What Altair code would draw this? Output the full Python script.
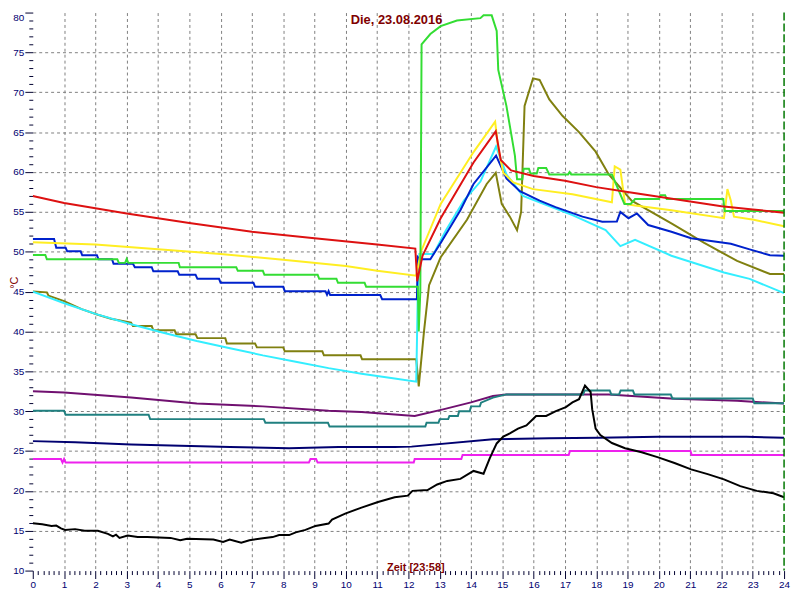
import altair as alt
import pandas as pd

# ---- data (time in hours, temperature in °C) ----
red_t = [0, 1, 3, 5, 7, 9, 11, 12.22, 12.28, 12.45, 13.03, 14.08, 14.79, 14.95, 15.28, 16, 17, 18, 19, 20, 21, 22, 23, 24]
red_v = [57.0, 56.1, 54.8, 53.6, 52.5, 51.7, 50.9, 50.4, 46.3, 49.5, 54.2, 61.2, 65.1, 61.5, 60.2, 59.5, 58.9, 58.1, 57.5, 56.9, 56.3, 55.7, 55.3, 54.9]

yel_t = [0, 2, 4, 6, 8, 10, 11, 12.25, 12.4, 13.03, 14.08, 14.77, 14.87, 15.03, 15.35, 15.98, 17.24, 18.5, 18.59, 18.77, 18.92, 19.24, 20.4, 22.08, 22.19, 22.3, 22.4, 23.03, 24]
yel_v = [51.2, 50.9, 50.3, 49.7, 49.0, 48.2, 47.6, 47.0, 50.0, 56.0, 62.5, 66.3, 63.0, 59.9, 58.7, 57.85, 57.2, 56.2, 60.7, 60.3, 56.0, 55.8, 55.2, 54.2, 57.85, 56.4, 54.4, 54.0, 53.2]

grn_t = [0, 0.4, 0.45, 2.7, 2.75, 2.95, 3.0, 3.05, 4.66, 4.7, 6.5, 6.55, 7.35, 7.4, 9.1, 9.15, 9.7, 9.75, 10.6, 10.65,
         12.3, 12.33, 12.38, 12.42, 12.7, 13.03, 13.55, 14.3, 14.4, 14.66, 14.82, 14.87, 15.13, 15.4, 15.47, 15.64,
         15.68, 15.85, 15.9, 16.1, 16.15, 16.4, 16.5, 17.1, 17.15, 17.2, 18.5, 18.9, 19.1, 19.24, 20.0, 20.05, 20.2,
         20.25, 22.06, 22.1, 24]
grn_v = [49.6, 49.6, 49.05, 49.05, 48.6, 48.6, 49.1, 48.6, 48.6, 48.05, 48.05, 47.6, 47.6, 47.1, 47.1, 46.6, 46.6, 46.1, 46.1, 45.6,
         45.6, 40.0, 45.0, 76.0, 77.3, 78.3, 79.0, 79.3, 79.65, 79.65, 77.7, 72.8, 68.3, 62.1, 59.1, 59.1,
         60.4, 60.4, 59.8, 59.8, 60.5, 60.5, 59.7, 59.7, 60.0, 59.7, 59.7, 56.0, 56.0, 56.6, 56.6, 57.1, 57.1,
         56.6, 56.6, 55.1, 55.1]

blu_t = [0, 0.68, 0.75, 1.05, 1.1, 1.53, 1.58, 2.05, 2.1, 2.53, 2.58, 3.2, 3.26, 3.8, 3.85, 4.63, 4.68, 5.2, 5.26, 5.95, 6.0,
         7.05, 7.1, 8.0, 8.05, 9.35, 9.4, 9.45, 9.5, 11.1, 11.16, 12.27, 12.3, 12.35, 12.7, 13.03, 13.66, 14.08, 14.8,
         15.13, 15.56, 16.19, 16.7, 17.56, 18.19, 18.66, 18.77, 19.03, 19.3, 19.66, 20.4, 21.03, 22.3, 22.9, 23.55, 24]
blu_v = [51.6, 51.6, 50.5, 50.5, 50.05, 50.05, 49.55, 49.55, 49.05, 49.05, 48.5, 48.5, 48.05, 48.05, 47.55, 47.55, 47.1, 47.1, 46.6, 46.6, 46.1,
         46.1, 45.6, 45.6, 45.05, 45.05, 44.6, 45.05, 44.56, 44.56, 44.05, 44.05, 49.3, 49.06, 49.06, 51.1, 55.2, 58.5, 62.06,
         59.2, 57.6, 56.4, 55.6, 54.4, 53.77, 53.8, 55.0, 54.2, 54.8, 53.35, 52.5, 51.7, 51.0, 50.3, 49.55, 49.5]

cya_t = [0, 1.03, 2.0, 3.14, 4.2, 5.24, 6.3, 7.35, 8.4, 9.45, 10.5, 11.56, 12.25, 12.3, 12.35, 12.8, 13.2, 13.77, 14.3, 14.8,
         15.13, 15.66, 17.24, 18.3, 18.77, 19.24, 20.4, 22.08, 22.9, 24]
cya_v = [45.0, 43.5, 42.2, 40.9, 39.8, 38.8, 37.9, 37.0, 36.2, 35.4, 34.7, 34.1, 33.7, 45.0, 49.7, 49.7, 52.7, 56.4, 58.8, 63.2,
         59.7, 57.0, 54.6, 52.7, 50.7, 51.5, 49.5, 47.4, 46.6, 44.8]

oli_t = [0, 0.45, 0.5, 1.0, 1.56, 2.08, 2.5, 3.14, 3.2, 3.8, 3.85, 4.53, 4.58, 5.2, 5.26, 6.15, 6.2, 7.1, 7.16, 8.0, 8.05,
         9.25, 9.3, 10.47, 10.52, 12.25, 12.33, 12.5, 12.66, 13.03, 13.87, 14.5, 14.79, 14.98, 15.24, 15.47, 15.6, 15.71,
         15.98, 16.19, 16.5, 16.92, 17.45, 17.98, 18.4, 19.13, 20.4, 21.45, 22.5, 23.55, 24]
oli_v = [45.0, 44.9, 44.5, 43.8, 42.8, 42.1, 41.6, 41.1, 40.67, 40.67, 40.15, 40.15, 39.65, 39.65, 39.16, 39.16, 38.5, 38.5, 38.0, 38.0, 37.5,
         37.5, 37.0, 37.0, 36.5, 36.5, 33.1, 40.1, 45.8, 49.3, 54.0, 58.5, 59.9, 56.0, 54.4, 52.7, 55.0, 68.3,
         71.75, 71.55, 69.1, 67.05, 65.0, 62.55, 59.7, 56.4, 53.55, 51.1, 48.85, 47.2, 47.2]

pur_t = [0, 1.0, 3.14, 5.24, 7.35, 9.45, 10.5, 12.2, 13.14, 14.0, 14.7, 15.13, 18.4, 20.5, 22.5, 24]
pur_v = [32.5, 32.35, 31.7, 30.95, 30.6, 30.05, 29.9, 29.4, 30.25, 31.1, 31.9, 32.1, 32.1, 31.55, 31.3, 30.95]

tea_t = [0, 1.0, 1.05, 3.7, 3.75, 7.38, 7.43, 9.43, 9.48, 12.54, 12.58, 12.96, 13.0, 13.27, 13.31, 13.58, 13.62, 13.96, 14.0,
         14.28, 14.32, 14.7, 15.13, 17.58, 17.63, 18.43, 18.48, 18.73, 18.78, 19.17, 19.22, 20.38, 20.43, 23.0, 23.05, 24]
tea_v = [30.05, 30.05, 29.55, 29.55, 29.0, 29.0, 28.55, 28.55, 28.07, 28.07, 28.55, 28.55, 29.0, 29.0, 29.4, 29.4, 30.0, 30.0, 30.6,
         30.6, 31.07, 31.7, 32.1, 32.1, 32.6, 32.6, 32.1, 32.1, 32.6, 32.6, 32.1, 32.1, 31.6, 31.6, 31.0, 31.0]

nav_t = [0, 1.35, 3.14, 6.3, 8.19, 9.77, 11.56, 12.1, 14.7, 16.5, 18.08, 19.98, 22.8, 24]
nav_v = [26.24, 26.1, 25.83, 25.5, 25.34, 25.5, 25.5, 25.55, 26.48, 26.6, 26.65, 26.8, 26.8, 26.65]

mag_t = [0, 0.9, 0.95, 1.0, 1.05, 8.82, 8.87, 9.05, 9.1, 12.17, 12.2, 13.69, 13.73, 17.12, 17.16, 21.01, 21.05, 24]
mag_v = [24.0, 24.0, 23.55, 24.0, 23.55, 23.55, 24.0, 24.0, 23.55, 23.55, 24.0, 24.0, 24.5, 24.5, 25.0, 25.0, 24.5, 24.5]

blk_t = [0, 0.3, 0.6, 0.75, 0.9, 1.03, 1.35, 1.66, 2.08, 2.4, 2.56, 2.66, 2.77, 3.03, 3.35, 3.66, 4.4, 4.71, 4.93, 5.77,
         6.08, 6.29, 6.66, 6.92, 7.35, 7.66, 7.87, 8.19, 8.4, 8.71, 9.03, 9.45, 9.56, 9.98, 10.5, 11.03, 11.56, 11.98,
         12.13, 12.61, 12.92, 13.24, 13.66, 14.08, 14.4, 14.6, 14.82, 15.03, 15.24, 15.5, 15.77, 16.08, 16.4, 16.71,
         17.03, 17.24, 17.45, 17.64, 17.82, 17.87, 17.98, 18.13, 18.5, 18.92, 19.45, 19.98, 20.5, 21.03, 21.56, 22.08,
         22.6, 23.13, 23.66, 24]
blk_v = [15.93, 15.8, 15.6, 15.65, 15.3, 15.1, 15.2, 15.0, 15.0, 14.6, 14.3, 14.5, 14.1, 14.4, 14.2, 14.2, 14.1, 13.8, 14.0, 13.9,
         13.6, 13.9, 13.5, 13.8, 14.05, 14.2, 14.45, 14.45, 14.8, 15.1, 15.6, 15.9, 16.4, 17.15, 17.9, 18.6, 19.2, 19.4,
         20.0, 20.1, 20.8, 21.25, 21.5, 22.5, 22.15, 24.1, 25.95, 26.8, 27.2, 27.8, 28.2, 29.4, 29.4, 30.0,
         30.5, 31.1, 31.5, 33.2, 32.4, 30.25, 27.8, 27.0, 26.0, 25.35, 24.85, 24.2, 23.5, 22.7, 22.1, 21.45,
         20.6, 20.0, 19.7, 19.2]

now_t = [24]
title_text = ["Die, 23.08.2016"]

# drawing order (bottom to top) and colours
series = [
    ("magenta", mag_t, mag_v, "#ee22ee"),
    ("navy", nav_t, nav_v, "#000070"),
    ("purple", pur_t, pur_v, "#701070"),
    ("teal", tea_t, tea_v, "#208080"),
    ("olive", oli_t, oli_v, "#808010"),
    ("cyan", cya_t, cya_v, "#33eeff"),
    ("blue", blu_t, blu_v, "#0022cc"),
    ("yellow", yel_t, yel_v, "#ffee22"),
    ("green", grn_t, grn_v, "#33dd33"),
    ("red", red_t, red_v, "#dd1111"),
    ("black", blk_t, blk_v, "#000000"),
]

rows = []
for name, ts, vs, _ in series:
    for i, (t, v) in enumerate(zip(ts, vs)):
        rows.append({"s": name, "i": i, "t": t, "v": v})
df = pd.DataFrame(rows)

FONT = "Liberation Sans"
W, H = 758, 563
is_hour = "abs(datum.value - round(datum.value)) < 0.01"
is_five = "datum.value % 5 === 0"

x_axis = alt.Axis(
    title="Zeit [23:58]",
    titleColor="#800000", titleFontWeight="bold", titleFontSize=11, titleFont=FONT,
    titleX=386, titleY=0, titleBaseline="alphabetic", titleAlign="center",
    values=[k / 6 for k in range(145)],
    labelExpr=f"{is_hour} ? format(round(datum.value), 'd') : ''",
    labelOverlap=False, labelFlush=False,
    labelColor="#000070", labelFont=FONT, labelFontSize=10, labelPadding=1,
    domain=False,
    tickColor="#000030",
    tickSize={"condition": {"test": is_hour, "value": 8}, "value": 4},
    grid=True, gridColor="#808080", gridDash=[3, 3], gridWidth=1,
    gridOpacity={"condition": {"test": f"{is_hour} && datum.value > 0.5 && datum.value < 23.5", "value": 1}, "value": 0},
)

y_axis = alt.Axis(
    title="°C",
    titleColor="#800000", titleFontWeight="normal", titleFontSize=11, titleFont=FONT,
    titleX=-24, titleY=272, titleAngle=270, titleAlign="center", titleBaseline="top",
    values=list(range(10, 81)),
    labelExpr=f"{is_five} ? format(datum.value, 'd') : ''",
    labelOverlap=False, labelFlush=False,
    labelBaseline={"condition": {"test": "datum.value >= 80", "value": "top"}, "value": "middle"},
    labelColor="#000070", labelFont=FONT, labelFontSize=10, labelPadding=1,
    domain=False,
    tickColor="#000030",
    tickSize={"condition": {"test": is_five, "value": 8}, "value": 4},
    grid=True, gridColor="#808080", gridDash=[3, 3], gridWidth=1,
    gridOpacity={"condition": {"test": f"{is_five} && datum.value > 10 && datum.value < 80", "value": 1}, "value": 0},
)

X = alt.X("t:Q", scale=alt.Scale(domain=[0, 24], nice=False, zero=False), axis=x_axis)
Y = alt.Y("v:Q", scale=alt.Scale(domain=[10, 80], nice=False, zero=False), axis=y_axis)

layers = []
for name, _, _, col in series:
    layers.append(
        alt.Chart(df)
        .transform_filter(alt.datum.s == name)
        .mark_line(color=col, strokeWidth=2, clip=True)
        .encode(x=X, y=Y, order=alt.Order("i:Q"))
    )

now_line = (
    alt.Chart(pd.DataFrame({"t": now_t}))
    .mark_rule(color="#007700", strokeWidth=1.5, strokeDash=[8, 3])
    .encode(x=X)
)
layers.append(now_line)

title_layer = (
    alt.Chart(pd.DataFrame({"txt": title_text}))
    .mark_text(font=FONT, fontSize=13, fontWeight="bold", color="#800000", align="center", baseline="middle")
    .encode(text="txt:N", x=alt.value(367), y=alt.value(8))
)
layers.append(title_layer)

chart = (
    alt.layer(*layers)
    .properties(
        width=W,
        height=H,
        padding={"left": 25, "top": 2, "right": 8, "bottom": 19},
        autosize=alt.AutoSizeParams(type="none"),
        background="white",
    )
    .configure_view(stroke=None)
)

chart.save("out.html", embed_options={"renderer": "svg", "actions": False})
